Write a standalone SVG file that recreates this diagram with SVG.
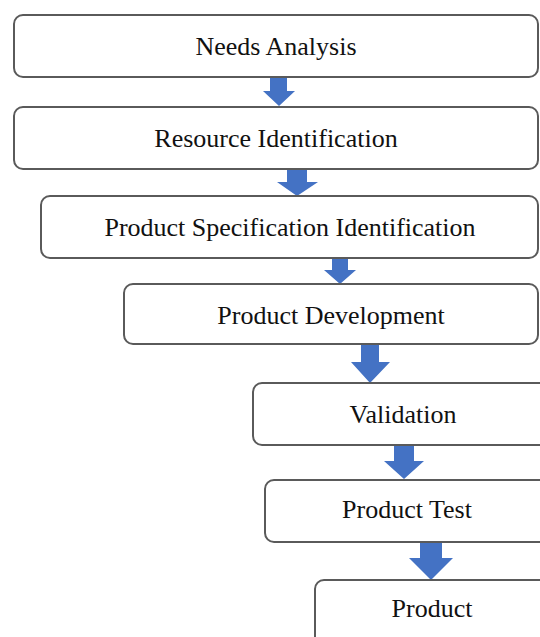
<svg xmlns="http://www.w3.org/2000/svg" width="540" height="637" viewBox="0 0 540 637">
  <style>
    .box { fill: #ffffff; stroke: #5a5a5a; stroke-width: 2; }
    .lbl { font-family: "Liberation Serif", "Times New Roman", serif; font-size: 26px; fill: #111111; text-anchor: middle; }
    .arrow { fill: #4472c4; }
  </style>
  <rect width="540" height="637" fill="#ffffff"/>

  <!-- block arrows between consecutive steps -->
  <g id="connectors">
    <path class="arrow" d="M270,77 H287 V91 H295 L279,106 L263,91 H270 Z"/>
    <path class="arrow" d="M287,169 H307 V182 H318 L297,196 L277,182 H287 Z"/>
    <path class="arrow" d="M332,258 H348 V270 H356 L340,284 L324,270 H332 Z"/>
    <path class="arrow" d="M361,344 H379 V362 H390 L370,383 L351,362 H361 Z"/>
    <path class="arrow" d="M394,445 H414 V461 H424 L404,479 L384,461 H394 Z"/>
    <path class="arrow" d="M420,542 H442 V558 H453 L431,580 L409,558 H420 Z"/>
  </g>

  <g id="needs-analysis">
    <rect class="box" x="14" y="15" width="524" height="62" rx="9"/>
    <text class="lbl" x="276" y="55">Needs Analysis</text>
  </g>
  <g id="resource-identification">
    <rect class="box" x="14" y="107" width="524" height="62" rx="9"/>
    <text class="lbl" x="276" y="147">Resource Identification</text>
  </g>
  <g id="product-specification-identification">
    <rect class="box" x="41" y="196" width="497" height="62" rx="9"/>
    <text class="lbl" x="290" y="236">Product Specification Identification</text>
  </g>
  <g id="product-development">
    <rect class="box" x="124" y="284" width="414" height="60" rx="9"/>
    <text class="lbl" x="331" y="324">Product Development</text>
  </g>
  <g id="validation">
    <rect class="box" x="253" y="383" width="300" height="62" rx="9"/>
    <text class="lbl" x="403" y="423">Validation</text>
  </g>
  <g id="product-test">
    <rect class="box" x="265" y="480" width="290" height="62" rx="9"/>
    <text class="lbl" x="407" y="518">Product Test</text>
  </g>
  <g id="product">
    <rect class="box" x="315" y="580" width="240" height="70" rx="9"/>
    <text class="lbl" x="432" y="617">Product</text>
  </g>
</svg>
